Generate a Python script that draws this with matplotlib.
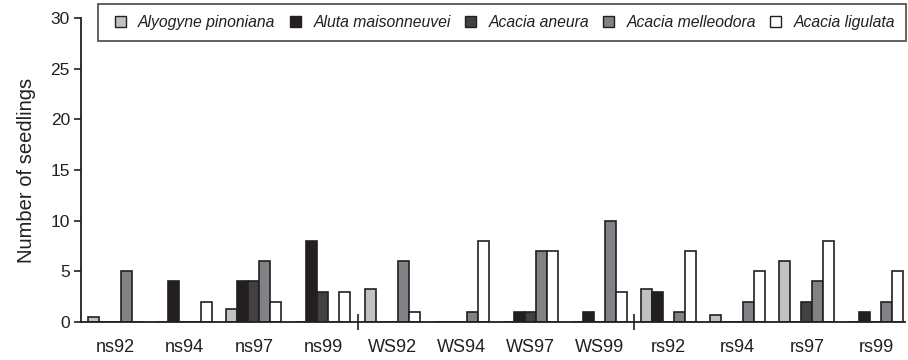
import matplotlib
matplotlib.use("Agg")
import matplotlib.pyplot as plt
from matplotlib.patches import Rectangle, Patch
import numpy as np

plt.rcParams['font.family'] = ['Liberation Sans', 'DejaVu Sans']

sites = ["ns92", "ns94", "ns97", "ns99", "WS92", "WS94", "WS97", "WS99",
         "rs92", "rs94", "rs97", "rs99"]
species = ["Alyogyne pinoniana", "Aluta maisonneuvei", "Acacia aneura",
           "Acacia melleodora", "Acacia ligulata"]
alyogyne   = [0.45, 0, 1.3, 0, 3.3, 0, 0, 0, 3.3, 0.65, 6, 0]
aluta      = [0, 4, 4, 8, 0, 0, 1, 1, 3, 0, 0, 1]
aneura     = [0, 0, 4, 3, 0, 0, 1, 0, 0, 0, 2, 0]
melleodora = [5, 0, 6, 0, 6, 1, 7, 10, 1, 2, 4, 2]
ligulata   = [0, 2, 2, 3, 1, 8, 7, 3, 7, 5, 8, 5]
series = [alyogyne, aluta, aneura, melleodora, ligulata]
colors = ['#c0c1c3', '#231f20', '#414042', '#808285', '#ffffff']
ink = '#231f20'

fig = plt.figure(figsize=(9.08, 3.6), dpi=100)
ax = fig.add_axes([81/908, 1-322/360, (905-81)/908, (322-18)/360])

x = np.arange(len(sites))
w = 0.159
for j, (vals, c) in enumerate(zip(series, colors)):
    ax.bar(x + (j-2)*w, vals, width=w, color=c, edgecolor=ink, linewidth=1.2,
           label=species[j], zorder=3)

ax.set_xlim(-0.5, 11.42)
ax.set_ylim(0, 30)
ax.set_yticks([0, 5, 10, 15, 20, 25, 30])
ax.spines['top'].set_visible(False)
ax.spines['right'].set_visible(False)
for s in ['left', 'bottom']:
    ax.spines[s].set_color(ink)
    ax.spines[s].set_linewidth(1.3)
ax.spines['bottom'].set_zorder(4)

ax.set_xticks([3.5, 7.5])
ax.set_xticklabels([])
ax.tick_params(axis='x', which='major', direction='inout', length=11, width=1.2, color=ink)
ax.set_xticks(x, minor=True)
ax.set_xticklabels(sites, minor=True)
ax.tick_params(axis='x', which='minor', length=0, pad=12, labelsize=13, labelcolor=ink)
ax.tick_params(axis='y', direction='out', length=5, width=1.2, color=ink,
               labelsize=12.5, labelcolor=ink, pad=3)
ax.set_ylabel("Number of seedlings", fontsize=14.5, color=ink, labelpad=10)

# legend box
fig.patches.append(Rectangle((98/908, 1-41/360), (906-98)/908, (41-4)/360,
                             transform=fig.transFigure, fill=False,
                             edgecolor='#555555', linewidth=1.3))
handles = [Patch(facecolor=c, edgecolor=ink, linewidth=1.0) for c in colors]
leg = fig.legend(handles, species, loc='center', bbox_to_anchor=(505/908, 1-22.5/360),
                 ncol=5, frameon=False, prop={'style': 'italic', 'size': 11.3},
                 handlelength=0.7, handleheight=0.7, handletextpad=0.8,
                 columnspacing=0.9, borderpad=0)
for t in leg.get_texts():
    t.set_color(ink)

fig.savefig("out.png", dpi=100)
